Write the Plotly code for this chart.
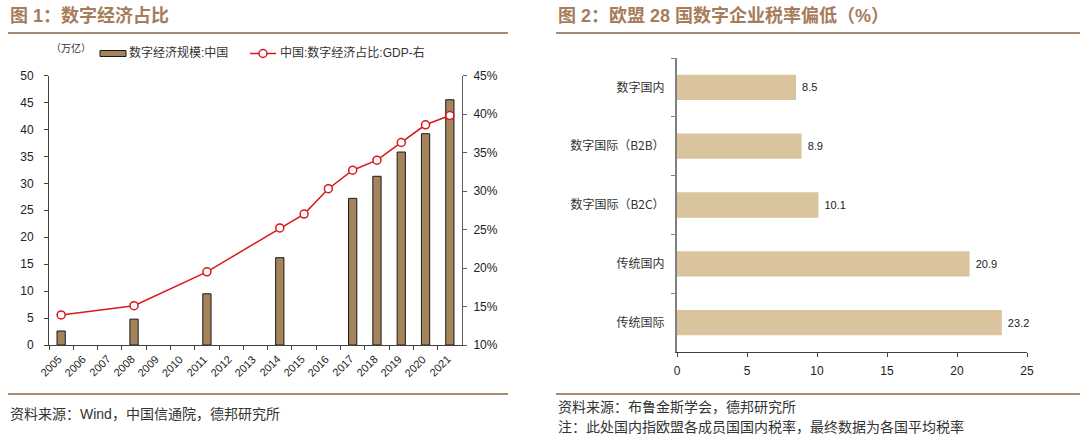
import plotly.graph_objects as go

# ---- data: left chart ----
years = ['2005', '2006', '2007', '2008', '2009', '2010', '2011', '2012', '2013',
         '2014', '2015', '2016', '2017', '2018', '2019', '2020', '2021']
scale = [2.6, None, None, 4.8, None, None, 9.5, None, None,
         16.2, None, None, 27.2, 31.3, 35.8, 39.2, 45.5]
share = [13.9, None, None, 15.1, None, None, 19.5, None, None,
         25.2, 27.0, 30.3, 32.7, 34.0, 36.3, 38.6, 39.8]
left_ticks = [0, 5, 10, 15, 20, 25, 30, 35, 40, 45, 50]
right_ticks = [10, 15, 20, 25, 30, 35, 40, 45]
right_ticktext = ['10%', '15%', '20%', '25%', '30%', '35%', '40%', '45%']

# ---- data: right chart ----
tax_cats = ['数字国内', '数字国际（B2B）', '数字国际（B2C）', '传统国内', '传统国际']
tax_vals = [8.5, 8.9, 10.1, 20.9, 23.2]
tax_ticks = [0, 5, 10, 15, 20, 25]

W, H = 1080, 438
def px(x): return x / W
def py(y): return 1 - y / H

FONT = "Liberation Sans, Arial, Noto Sans CJK SC"
BROWN = "#A67C5B"
LINEC = "#A88A70"
BAR1 = "#A5845B"
RED = "#D7191C"
BAR2 = "#D9C49D"

fig = go.Figure()

fig.add_trace(go.Bar(x=years, y=scale, width=0.34, marker=dict(color=BAR1, line=dict(color="#1a1a1a", width=1)),
                     xaxis="x", yaxis="y", showlegend=False))
fig.add_trace(go.Scatter(x=years, y=share, mode="lines+markers", connectgaps=True,
                         line=dict(color=RED, width=1.5),
                         marker=dict(symbol="circle", size=8, color="white", line=dict(color=RED, width=1.5)),
                         xaxis="x", yaxis="y2", showlegend=False))
fig.add_trace(go.Bar(x=tax_vals, y=tax_cats, orientation="h", marker=dict(color=BAR2, line=dict(width=0)),
                     text=[f"\u00a0{v:.1f}" for v in tax_vals], textposition="outside", cliponaxis=False,
                     textfont=dict(size=11, color="#222"),
                     xaxis="x3", yaxis="y3", showlegend=False))

axis_font = dict(family=FONT, size=12, color="#222")

fig.update_layout(
    width=W, height=H, margin=dict(l=0, r=0, t=0, b=0, pad=0), autosize=False,
    paper_bgcolor="white", plot_bgcolor="white",
    font=dict(family=FONT, size=12, color="#222"),
    bargap=0.57,
    xaxis=dict(domain=[px(49), px(462)], type="category", showticklabels=False,
               categoryorder="array", categoryarray=years, range=[-0.5, len(years) - 0.5],
               showline=True, linecolor="#404040", linewidth=1, ticks="outside", tickson="boundaries", ticklen=4,
               tickcolor="#404040", showgrid=False, anchor="y", automargin=False),
    yaxis=dict(domain=[py(345), py(75.5)], range=[0, 50], tickvals=left_ticks, showline=True, linecolor="#404040",
               linewidth=1, ticks="outside", ticklen=4, tickcolor="#404040", showgrid=False, zeroline=False,
               tickfont=axis_font, anchor="x", ticklabelstandoff=8, automargin=False),
    yaxis2=dict(domain=[py(345), py(75.5)], range=[10, 45], tickvals=right_ticks, ticktext=right_ticktext,
                overlaying="y", side="right", showline=True, linecolor="#606060", linewidth=1, ticks="outside",
                ticklen=4, tickcolor="#606060", showgrid=False, zeroline=False, tickfont=axis_font, anchor="x",
                ticklabelstandoff=4, automargin=False),
    xaxis3=dict(domain=[px(677), px(1027)], range=[0, 25], tickvals=tax_ticks, showline=True, linecolor="#404040",
                linewidth=1, ticks="outside", ticklen=4, tickcolor="#404040", showgrid=False, zeroline=False,
                tickfont=axis_font, anchor="y3", ticklabelstandoff=4, automargin=False),
    yaxis3=dict(domain=[py(352), py(58)], autorange="reversed", type="category", showline=True,
                linecolor="#808080", linewidth=2, ticks="outside", tickson="boundaries", ticklen=4,
                tickcolor="#808080", showgrid=False, tickfont=dict(family="Noto Sans CJK SC, " + FONT, size=12, color="#333"),
                anchor="x3", ticklabelstandoff=8, automargin=False),
)

shapes = [
    dict(type="line", xref="paper", yref="paper", x0=px(8), x1=px(508), y0=py(33), y1=py(33),
         line=dict(color=LINEC, width=2)),
    dict(type="line", xref="paper", yref="paper", x0=px(556), x1=px(1080), y0=py(33), y1=py(33),
         line=dict(color=LINEC, width=2)),
    dict(type="line", xref="paper", yref="paper", x0=px(8), x1=px(508), y0=py(394), y1=py(394),
         line=dict(color=LINEC, width=2)),
    dict(type="line", xref="paper", yref="paper", x0=px(556), x1=px(1080), y0=py(394), y1=py(394),
         line=dict(color=LINEC, width=2)),
    # legend symbols
    dict(type="rect", xref="paper", yref="paper", x0=px(100), x1=px(126), y0=py(56.5), y1=py(50.5),
         fillcolor=BAR1, line=dict(color="#1a1a1a", width=1)),
    dict(type="line", xref="paper", yref="paper", x0=px(250), x1=px(276), y0=py(53.5), y1=py(53.5),
         line=dict(color=RED, width=1.5)),
    dict(type="circle", xref="paper", yref="paper", x0=px(259), x1=px(267), y0=py(57.5), y1=py(49.5),
         fillcolor="white", line=dict(color=RED, width=1.5)),
]
fig.update_layout(shapes=shapes)

def ann(x, y, text, size=12, color="#222", bold=False, xanchor="left"):
    t = f"<b>{text}</b>" if bold else text
    return dict(xref="paper", yref="paper", x=px(x), y=py(y), text=t, showarrow=False, xanchor=xanchor,
                yanchor="middle", borderpad=0,
                font=dict(family="Liberation Sans, Noto Sans CJK SC", size=size, color=color))

annotations = [
    ann(9, 15, "图 1：数字经济占比", size=18, color=BROWN, bold=True),
    ann(557, 15, "图 2：欧盟 28 国数字企业税率偏低（%）", size=18, color=BROWN, bold=True),
    ann(50, 48, "（万亿）", size=10, color="#333"),
    ann(128, 53, "数字经济规模:中国", size=12, color="#333"),
    ann(279, 53, "中国:数字经济占比:GDP-右", size=12, color="#333"),
    ann(9, 414, "资料来源：Wind，中国信通院，德邦研究所", size=14, color="#333"),
    ann(557, 407, "资料来源：布鲁金斯学会，德邦研究所", size=14, color="#333"),
    ann(557, 427, "注：此处国内指欧盟各成员国国内税率，最终数据为各国平均税率", size=14, color="#333"),
]
# rotated year labels along the category axis (x given as category index)
for i, yr in enumerate(years):
    annotations.append(dict(xref="x", yref="paper", x=i, y=py(352), text=yr, textangle=-45, showarrow=False,
                            xanchor="right", yanchor="top", xshift=4, borderpad=0,
                            font=dict(family=FONT, size=11, color="#222")))
fig.update_layout(annotations=annotations)

fig.write_html("out.html", config={"displayModeBar": False},
               post_script="document.body.style.margin='0px';document.body.style.padding='0px';document.body.style.overflow='hidden';")
